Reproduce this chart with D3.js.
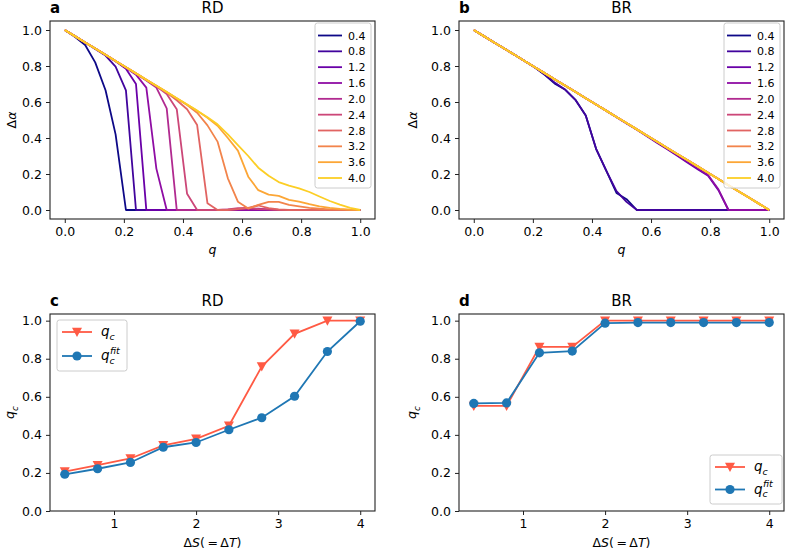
<!DOCTYPE html>
<html>
<head>
<meta charset="UTF-8">
<title>RD / BR critical q</title>
<script src="https://d3js.org/d3.v7.min.js"></script>
<style>
  body { margin: 0; background: #fff; }
  svg, svg text { font-family: "DejaVu Sans", sans-serif; }
  .tick text { font-size: 12.5px; fill: #000; font-family: "DejaVu Sans", sans-serif; }
  .tick line { stroke: #222; }
</style>
</head>
<body>
<div id="chart"></div>
<script>
// legend values (ΔS = ΔT)
const dsValues = [0.4, 0.8, 1.2, 1.6, 2.0, 2.4, 2.8, 3.2, 3.6, 4.0];

// q grid used in panels a and b
const qGrid = [0, 0.034, 0.069, 0.103, 0.138, 0.172, 0.207, 0.241, 0.276, 0.310,
  0.345, 0.379, 0.414, 0.448, 0.483, 0.517, 0.552, 0.586, 0.621, 0.655,
  0.690, 0.724, 0.759, 0.793, 0.828, 0.862, 0.897, 0.931, 0.966, 1.0];

// panel a (RD): Δα vs q, one row per ΔS
const rdCurves = [
  [1, .962, .917, .82, .665, .42, 0, 0, 0, 0, 0, 0, 0, 0, 0, 0, 0, 0, 0, 0, 0, 0, 0, 0, 0, 0, 0, 0, 0, 0],
  [1, .966, .931, .895, .858, .796, .665, 0, 0, 0, 0, 0, 0, 0, 0, 0, 0, 0, 0, 0, 0, 0, 0, 0, 0, 0, 0, 0, 0, 0],
  [1, .966, .931, .897, .861, .826, .785, .70, 0, 0, 0, 0, 0, 0, 0, 0, 0, 0, 0, 0, 0, 0, 0, 0, 0, 0, 0, 0, 0, 0],
  [1, .966, .931, .897, .862, .827, .79, .752, .68, .23, 0, 0, 0, 0, 0, 0, 0, 0, 0, 0, 0, 0, 0, 0, 0, 0, 0, 0, 0, 0],
  [1, .966, .931, .897, .862, .828, .792, .757, .72, .68, .565, 0, 0, 0, 0, 0, .002, .004, .006, .008, .004, 0, 0, 0, 0, 0, 0, 0, 0, 0],
  [1, .966, .931, .897, .862, .828, .793, .758, .722, .687, .645, .56, .09, 0, 0, 0, .003, .01, .012, .005, .003, 0, 0, 0, 0, 0, 0, 0, 0, 0],
  [1, .966, .931, .897, .862, .828, .793, .759, .723, .689, .652, .61, .56, .472, .037, 0, 0, .005, .012, .025, .01, .004, 0, 0, 0, 0, 0, 0, 0, 0],
  [1, .966, .931, .897, .862, .828, .793, .759, .724, .690, .655, .62, .583, .54, .47, .38, .176, .046, .008, .028, .045, .045, .028, .02, .012, .007, .004, .002, .001, 0],
  [1, .966, .931, .897, .862, .828, .793, .759, .724, .690, .655, .621, .586, .551, .512, .468, .40, .33, .185, .11, .085, .078, .056, .046, .032, .02, .012, .006, .002, 0],
  [1, .966, .931, .897, .862, .828, .793, .759, .724, .690, .655, .621, .586, .552, .515, .476, .42, .36, .30, .235, .19, .155, .135, .12, .10, .075, .05, .03, .012, 0]
];

// panel b (BR)
const brCurves = [
  [1, .966, .931, .897, .862, .828, .792, .75, .70, .668, .61, .525, .34, .22, .095, .06, 0, 0, 0, 0, 0, 0, 0, 0, 0, 0, 0, 0, 0, 0],
  [1, .966, .931, .897, .862, .828, .792, .752, .705, .668, .61, .525, .34, .22, .105, .045, 0, 0, 0, 0, 0, 0, 0, 0, 0, 0, 0, 0, 0, 0],
  [1, .966, .931, .897, .862, .828, .793, .759, .724, .690, .655, .621, .586, .551, .516, .481, .446, .41, .372, .337, .30, .262, .225, .19, .11, 0, 0, 0, 0, 0],
  [1, .966, .931, .897, .862, .828, .793, .759, .724, .690, .655, .621, .586, .552, .517, .482, .447, .412, .376, .34, .305, .268, .232, .195, .115, 0, 0, 0, 0, 0],
  [1, .966, .931, .897, .862, .828, .793, .759, .724, .690, .655, .621, .586, .552, .517, .483, .448, .414, .379, .345, .310, .276, .241, .207, .172, .138, .103, .069, .034, 0],
  [1, .966, .931, .897, .862, .828, .793, .759, .724, .690, .655, .621, .586, .552, .517, .483, .448, .414, .379, .345, .310, .276, .241, .207, .172, .138, .103, .069, .034, 0],
  [1, .966, .931, .897, .862, .828, .793, .759, .724, .690, .655, .621, .586, .552, .517, .483, .448, .414, .379, .345, .310, .276, .241, .207, .172, .138, .103, .069, .034, 0],
  [1, .966, .931, .897, .862, .828, .793, .759, .724, .690, .655, .621, .586, .552, .517, .483, .448, .414, .379, .345, .310, .276, .241, .207, .172, .138, .103, .069, .034, 0],
  [1, .966, .931, .897, .862, .828, .793, .759, .724, .690, .655, .621, .586, .552, .517, .483, .448, .414, .379, .345, .310, .276, .241, .207, .172, .138, .103, .069, .034, 0],
  [1, .966, .931, .897, .862, .828, .793, .759, .724, .690, .655, .621, .586, .552, .517, .483, .448, .414, .379, .345, .310, .276, .241, .207, .172, .138, .103, .069, .034, 0]
];

// panels c and d: q_c and fitted q_c vs ΔS
const rdQc  = [0.207, 0.241, 0.276, 0.345, 0.379, 0.448, 0.759, 0.931, 1.0, 1.0];
const rdFit = [0.193, 0.222, 0.255, 0.335, 0.36, 0.427, 0.49, 0.603, 0.838, 0.997];
const brQc  = [0.552, 0.552, 0.862, 0.862, 1.0, 1.0, 1.0, 1.0, 1.0, 1.0];
const brFit = [0.565, 0.568, 0.831, 0.84, 0.987, 0.99, 0.99, 0.99, 0.99, 0.99];

const qTicks = [0, 0.2, 0.4, 0.6, 0.8, 1.0];
const dsTicks = [1, 2, 3, 4];

const red = "#ff5a44", blue = "#1f77b4";
const FONT = "DejaVu Sans";

const svg = d3.select("#chart").append("svg")
  .attr("width", 787).attr("height", 551);

function panel(o) {
  const x = d3.scaleLinear().domain(o.xDomain).range([o.left, o.right]);
  const y = d3.scaleLinear().domain(o.yDomain).range([o.bottom, o.top]);
  const g = svg.append("g");

  g.append("g")
    .attr("transform", `translate(0,${o.bottom})`)
    .call(d3.axisBottom(x).tickValues(o.xTicks).tickFormat(o.xFormat).tickSize(4).tickPadding(4))
    .attr("font-family", FONT).attr("font-size", 12.5)
    .call(a => a.select(".domain").remove());
  g.append("g")
    .attr("transform", `translate(${o.left},0)`)
    .call(d3.axisLeft(y).tickValues(o.yTicks).tickFormat(d3.format(".1f")).tickSize(4).tickPadding(4))
    .attr("font-family", FONT).attr("font-size", 12.5)
    .call(a => a.select(".domain").remove());

  g.append("text").attr("x", (o.left + o.right) / 2).attr("y", o.top - 8)
    .attr("text-anchor", "middle").attr("font-size", 15).text(o.title);
  g.append("text").attr("x", o.left).attr("y", o.top - 8)
    .attr("font-size", 15).attr("font-weight", "bold").text(o.letter);

  const xl = g.append("text").attr("x", (o.left + o.right) / 2).attr("y", o.bottom + o.xLabelDy)
    .attr("text-anchor", "middle").attr("font-size", 12.5);
  o.xLabel(xl);
  const yl = g.append("text")
    .attr("transform", `translate(${o.yLabelX},${(o.top + o.bottom) / 2}) rotate(-90)`)
    .attr("text-anchor", "middle").attr("font-size", 12.5);
  o.yLabel(yl);

  const plot = g.append("g");
  return { x, y, g, plot, o };
}

function frame(p) {
  const o = p.o;
  p.g.append("rect").attr("x", o.left).attr("y", o.top)
    .attr("width", o.right - o.left).attr("height", o.bottom - o.top)
    .attr("fill", "none").attr("stroke", "#222").attr("stroke-width", 1.1);
}

function alphaLabel(t) {
  t.append("tspan").text("Δ");
  t.append("tspan").attr("font-style", "italic").text("α");
}
function qLabel(t) {
  t.append("tspan").attr("font-style", "italic").text("q");
}
function dsLabel(t) {
  t.append("tspan").text("Δ");
  t.append("tspan").attr("font-style", "italic").text("S");
  t.append("tspan").text("(\u2009=\u2009Δ");
  t.append("tspan").attr("font-style", "italic").text("T");
  t.append("tspan").text(")");
}
function qcLabel(t, size, fit) {
  t.append("tspan").attr("font-style", "italic").text("q");
  t.append("tspan").attr("font-style", "italic").attr("font-size", size * 0.7)
    .attr("dy", size * 0.28).text("c");
  if (fit) {
    t.append("tspan").attr("font-style", "italic").attr("font-size", size * 0.7)
      .attr("dx", -size * 0.36).attr("dy", -size * 0.75).text("fit");
  }
}

const lineColor = i => d3.interpolatePlasma(i / 10);

function curvePanel(o, curves) {
  const p = panel(Object.assign({
    xDomain: [-0.05, 1.05], yDomain: [-0.05, 1.05],
    xTicks: qTicks, yTicks: qTicks, xFormat: d3.format(".1f"),
    xLabel: qLabel, yLabel: alphaLabel, xLabelDy: 35
  }, o));
  const line = d3.line().x((d, i) => p.x(qGrid[i])).y(d => p.y(d));
  p.plot.selectAll("path.curve").data(curves).join("path")
    .attr("class", "curve")
    .attr("d", line)
    .attr("fill", "none")
    .attr("stroke", (d, i) => lineColor(i))
    .attr("stroke-width", 1.8)
    .attr("stroke-linejoin", "round");

  // legend
  const lx = o.right - 60, ly = o.top + 2;
  const leg = p.g.append("g");
  leg.append("rect").attr("x", lx).attr("y", ly).attr("width", 56).attr("height", 165)
    .attr("rx", 2.5).attr("fill", "#fff").attr("fill-opacity", 0.8)
    .attr("stroke", "#ccc").attr("stroke-width", 1);
  const row = d3.scaleLinear().domain([0, 9]).range([ly + 12.5, ly + 155]);
  const items = leg.selectAll("g.item").data(dsValues).join("g").attr("class", "item")
    .attr("transform", (d, i) => `translate(${lx},${row(i)})`);
  items.append("line").attr("x1", 3).attr("x2", 27).attr("y1", 0).attr("y2", 0)
    .attr("stroke", (d, i) => lineColor(i)).attr("stroke-width", 1.8);
  items.append("text").attr("x", 33).attr("y", 4).attr("font-size", 11)
    .text(d => d3.format(".1f")(d));
  frame(p);
}

function triangle(s) {
  return `M${-s},${-s * 0.85}L${s},${-s * 0.85}L0,${s}Z`;
}

function qcPanel(o, qc, fit, legendPos) {
  const p = panel(Object.assign({
    xDomain: [0.22, 4.18], yDomain: [0, 1.035],
    xTicks: dsTicks, yTicks: qTicks, xFormat: d3.format("d"),
    xLabel: dsLabel, yLabel: t => qcLabel(t, 12.5, false), xLabelDy: 36
  }, o));
  const series = [
    { vals: qc, color: red, marker: "tri" },
    { vals: fit, color: blue, marker: "circle" }
  ];
  series.forEach(s => {
    const line = d3.line().x((d, i) => p.x(dsValues[i])).y(d => p.y(d));
    p.plot.append("path").datum(s.vals).attr("d", line)
      .attr("fill", "none").attr("stroke", s.color).attr("stroke-width", 1.8);
    if (s.marker === "tri") {
      p.plot.selectAll(null).data(s.vals).join("path")
        .attr("transform", (d, i) => `translate(${p.x(dsValues[i])},${p.y(d)})`)
        .attr("d", triangle(5)).attr("fill", s.color);
    } else {
      p.plot.selectAll(null).data(s.vals).join("circle")
        .attr("cx", (d, i) => p.x(dsValues[i])).attr("cy", d => p.y(d))
        .attr("r", 4.6).attr("fill", s.color);
    }
  });

  // legend
  const [lx, ly, lw, lh, gap] = legendPos;
  const leg = p.g.append("g");
  leg.append("rect").attr("x", lx).attr("y", ly).attr("width", lw).attr("height", lh)
    .attr("rx", 2.5).attr("fill", "#fff").attr("fill-opacity", 0.8)
    .attr("stroke", "#ccc").attr("stroke-width", 1);
  series.forEach((s, k) => {
    const cy = ly + 12 + k * gap;
    leg.append("line").attr("x1", lx + 5).attr("x2", lx + 35).attr("y1", cy).attr("y2", cy)
      .attr("stroke", s.color).attr("stroke-width", 1.8);
    if (s.marker === "tri") {
      leg.append("path").attr("transform", `translate(${lx + 20},${cy})`)
        .attr("d", triangle(5)).attr("fill", s.color);
    } else {
      leg.append("circle").attr("cx", lx + 20).attr("cy", cy).attr("r", 4.6).attr("fill", s.color);
    }
    const t = leg.append("text").attr("x", lx + 44).attr("y", cy + 4).attr("font-size", 13.5);
    qcLabel(t, 13.5, k === 1);
  });
  frame(p);
}

curvePanel({ left: 50, right: 375, top: 21, bottom: 219, title: "RD", letter: "a", yLabelX: 16 }, rdCurves);
curvePanel({ left: 459, right: 784, top: 21, bottom: 219, title: "BR", letter: "b", yLabelX: 417 }, brCurves);
qcPanel({ left: 50, right: 375, top: 314, bottom: 511, title: "RD", letter: "c", yLabelX: 14 },
  rdQc, rdFit, [57, 320, 70, 51, 24]);
qcPanel({ left: 459, right: 784, top: 314, bottom: 511, title: "BR", letter: "d", yLabelX: 416 },
  brQc, brFit, [710, 455, 72, 49, 22.5]);
</script>
</body>
</html>
